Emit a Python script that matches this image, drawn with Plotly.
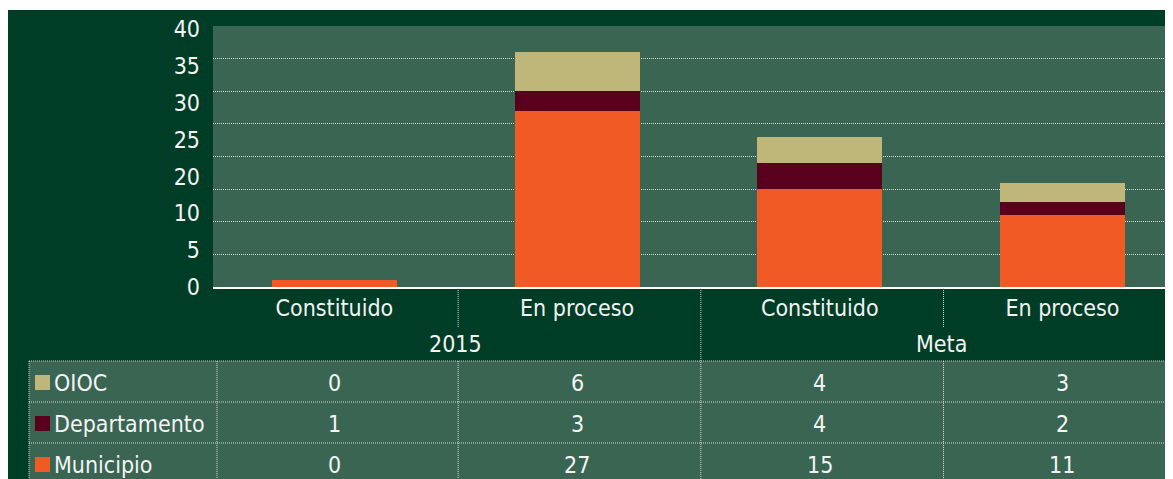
import plotly.graph_objects as go

# ---------------- data ----------------
groups = ["2015", "2015", "Meta", "Meta"]
subcats = ["Constituido", "En proceso", "Constituido", "En proceso"]
series_names = ["OIOC", "Departamento", "Municipio"]

# values printed in the data table under the chart
table_oioc = [0, 6, 4, 3]
table_departamento = [1, 3, 4, 2]
table_municipio = [0, 27, 15, 11]

# bar segments as drawn in the chart
bar_municipio = [1, 27, 15, 11]
bar_departamento = [0, 3, 4, 2]
bar_oioc = [0, 6, 4, 3]

y_tick_labels = ["0", "5", "10", "20", "25", "30", "35", "40"]

# ---------------- style ----------------
FONT = "DejaVu Sans Condensed, Liberation Sans Narrow, DejaVu Sans, sans-serif"
FS = 23
WHITE = "#f4f4f4"
DARK_BG = "#003d26"
PLOT_BG = "#396552"
GRID = "#d5ddd8"
DOT = "1px,1px"
colors = {"OIOC": "#bfb77a", "Departamento": "#58001e", "Municipio": "#f15a24"}

OFF = 8                      # page body margin
W, H = 1173, 479             # figure size (right/bottom edge fall just outside the window)
ML, MR, MT = 213 - OFF, 0, 26 - OFF
MB = H - (287 - OFF)
PW = W - ML - MR
PH = H - MT - MB
CAT_PX = 242.7               # width of one category column in pixels


def px_x(px):
    """page pixel (x) -> paper fraction"""
    return (px - OFF - ML) / PW


def px_y(py):
    """page pixel (y) -> paper fraction"""
    return (H - MB - (py - OFF)) / PH


idx = list(range(len(subcats)))

fig = go.Figure()
for name, vals in [("Municipio", bar_municipio), ("Departamento", bar_departamento), ("OIOC", bar_oioc)]:
    fig.add_trace(go.Bar(x=idx, y=vals, name=name, width=0.515,
                         marker=dict(color=colors[name], line=dict(width=0)),
                         showlegend=False, hoverinfo="skip"))
# invisible trace carrying the label axis
fig.add_trace(go.Scatter(x=[0], y=[0], yaxis="y2", mode="markers",
                         marker=dict(opacity=0), showlegend=False, hoverinfo="skip"))

shapes = []
# white strip on top of the picture
shapes.append(dict(type="rect", xref="paper", yref="paper", x0=px_x(0), x1=px_x(1200),
                   y0=px_y(10), y1=px_y(0), fillcolor="white", line=dict(width=0), layer="below"))
# table background
TABLE_TOP, ROW_H = 361, 41
shapes.append(dict(type="rect", xref="paper", yref="paper", x0=px_x(29), x1=px_x(1200),
                   y0=px_y(500), y1=px_y(TABLE_TOP), fillcolor=PLOT_BG, line=dict(width=0),
                   layer="below"))
# table horizontal lines
for r in range(3):
    yy = px_y(TABLE_TOP + r * ROW_H)
    shapes.append(dict(type="line", xref="paper", yref="paper", x0=px_x(29), x1=px_x(1200),
                       y0=yy, y1=yy, line=dict(color=GRID, width=1, dash=DOT)))
# table left border and label-column border
for xp in [29, 217]:
    shapes.append(dict(type="line", xref="paper", yref="paper", x0=px_x(xp), x1=px_x(xp),
                       y0=px_y(TABLE_TOP), y1=px_y(500), line=dict(color=GRID, width=1, dash=DOT)))
# category dividers
for b in [0.5, 1.5, 2.5]:
    end = 500 if b == 1.5 else 328
    shapes.append(dict(type="line", xref="x", yref="paper", x0=b + 0.01, x1=b + 0.01,
                       y0=px_y(288), y1=px_y(end), line=dict(color=GRID, width=1, dash=DOT)))
    if b != 1.5:
        shapes.append(dict(type="line", xref="x", yref="paper", x0=b + 0.01, x1=b + 0.01,
                           y0=px_y(TABLE_TOP), y1=px_y(500),
                           line=dict(color=GRID, width=1, dash=DOT)))

annotations = []
# group labels
for gname in ["2015", "Meta"]:
    pos = [i for i, g in enumerate(groups) if g == gname]
    annotations.append(dict(x=sum(pos) / len(pos), y=px_y(344), xref="x", yref="paper",
                            text=gname, showarrow=False, xanchor="center", yanchor="middle",
                            font=dict(family=FONT, size=FS, color=WHITE)))
# table rows
rows = [("OIOC", table_oioc), ("Departamento", table_departamento), ("Municipio", table_municipio)]
for r, (name, vals) in enumerate(rows):
    cy = TABLE_TOP + r * ROW_H + ROW_H / 2 + 1
    shapes.append(dict(type="rect", xref="paper", yref="paper", x0=px_x(35), x1=px_x(50),
                       y0=px_y(cy + 7.5), y1=px_y(cy - 7.5), fillcolor=colors[name],
                       line=dict(width=0)))
    annotations.append(dict(x=px_x(52), y=px_y(cy), xref="paper", yref="paper", text=name,
                            showarrow=False, xanchor="left", yanchor="middle",
                            font=dict(family=FONT, size=FS, color=WHITE)))
    for i, v in enumerate(vals):
        annotations.append(dict(x=idx[i], y=px_y(cy), xref="x", yref="paper", text=str(v),
                                showarrow=False, xanchor="center", yanchor="middle",
                                font=dict(family=FONT, size=FS, color=WHITE)))

fig.update_layout(
    width=W, height=H,
    margin=dict(l=ML, r=MR, t=MT, b=MB, pad=0),
    paper_bgcolor=DARK_BG, plot_bgcolor=PLOT_BG,
    barmode="stack", bargap=0,
    font=dict(family=FONT, size=FS, color=WHITE),
    shapes=shapes, annotations=annotations,
    xaxis=dict(range=[-0.5, -0.5 + PW / CAT_PX], tickvals=idx, ticktext=subcats,
               showgrid=False, zeroline=False, showline=True, linecolor="white",
               linewidth=1.5, ticks="", tickfont=dict(family=FONT, size=FS, color=WHITE),
               automargin=False, ticklabelstandoff=0),
    yaxis=dict(range=[0, 40], tickvals=list(range(5, 40, 5)), showticklabels=False,
               showgrid=True, gridcolor=GRID, gridwidth=1, griddash=DOT, zeroline=False,
               ticks="", automargin=False),
    yaxis2=dict(overlaying="y", side="left", range=[0, 40],
                tickvals=[i * 39.5 / (len(y_tick_labels) - 1) for i in range(len(y_tick_labels))],
                ticktext=y_tick_labels, showgrid=False, zeroline=False, ticks="",
                tickfont=dict(family=FONT, size=FS, color=WHITE), automargin=False,
                ticklabelstandoff=12),
)

fig.write_html("out.html")
